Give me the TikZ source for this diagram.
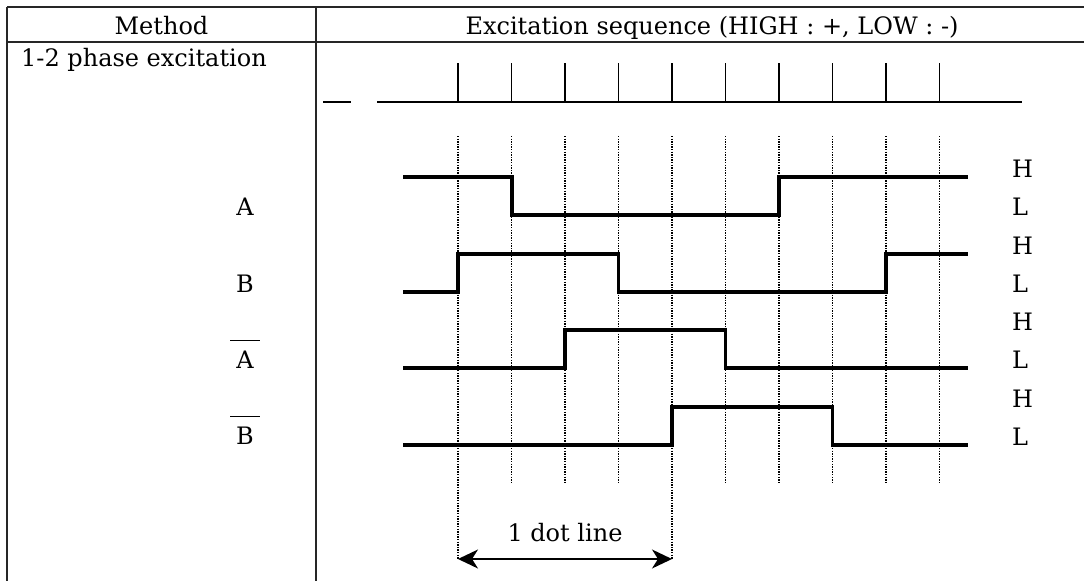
\documentclass[tikz,border=0pt]{standalone}
\usepackage{fontspec}
\setmainfont{DejaVu Serif}
\usetikzlibrary{arrows.meta}

\tikzset{
  frame/.style = {line width=1.6pt, draw=black!85},
  clock/.style = {line width=1.4pt},
  wave/.style = {line width=3.6pt, line join=miter},
  dotline/.style = {line width=1.3pt, dash pattern=on 1.3pt off 1.3pt},
  txt/.style = {font=\fontsize{24}{28}\selectfont, inner sep=0pt},
}

\newcommand{\barsig}[1]{$\overline{\hspace{6pt}\mbox{#1}\hspace{6pt}\rule{0pt}{26pt}}$}

\begin{document}
\begin{tikzpicture}[x = 1pt, y = -1pt]
\useasboundingbox (0, 0) rectangle (1084, 581);

% table
\draw[frame] (7, 7) -- (1084, 7);
\draw[frame] (7, 42) -- (1084, 42);
\draw[frame] (7, 7) -- (7, 581);
\draw[frame] (316, 7) -- (316, 581);

\node[txt, anchor = base] (method) at (161.5, 34) {Method};
\node[txt, anchor = base] (seq) at (712, 34) {Excitation sequence (HIGH : +, LOW : -)};
\node[txt, anchor = base west] (mode) at (21, 66) {1-2 phase excitation};

% clock pulses
\draw[clock] (323, 102) -- (351, 102);
\draw[clock] (377, 102) -- (1022, 102);
\foreach \i in {0, ..., 9}
  \draw[clock] (458 + 53.5*\i, 63) -- (458 + 53.5*\i, 102);

% dotted grid
\coordinate (d0) at (458, 559);
\coordinate (d4) at (672, 559);
\draw[dotline] (458, 136) -- (d0);
\draw[dotline] (672, 136) -- (d4);
\foreach \i in {1, 2, 3, 5, 6, 7, 8, 9}
  \draw[dotline] (458 + 53.5*\i, 136) -- (458 + 53.5*\i, 482);

% phases
\draw[wave] (403, 177) -- (512, 177) -- (512, 215) -- (779, 215) -- (779, 177) -- (968, 177);
\draw[wave] (403, 292) -- (458, 292) -- (458, 254) -- (618.5, 254) -- (618.5, 292) -- (886, 292) -- (886, 254) -- (968, 254);
\draw[wave] (403, 368) -- (565, 368) -- (565, 330) -- (725.5, 330) -- (725.5, 368) -- (968, 368);
\draw[wave] (403, 445) -- (672, 445) -- (672, 407) -- (832.5, 407) -- (832.5, 445) -- (968, 445);

\node[txt, anchor = base] (a) at (245, 215) {A};
\node[txt, anchor = base] (b) at (245, 292) {B};
\node[txt, anchor = base] (na) at (245, 368) {\barsig{A}};
\node[txt, anchor = base] (nb) at (245, 444) {\barsig{B}};

\node[txt, anchor = base west] (h1) at (1012, 177) {H};
\node[txt, anchor = base west] (l1) at (1012, 215) {L};
\node[txt, anchor = base west] (h2) at (1012, 254) {H};
\node[txt, anchor = base west] (l2) at (1012, 292) {L};
\node[txt, anchor = base west] (h3) at (1012, 330) {H};
\node[txt, anchor = base west] (l3) at (1012, 368) {L};
\node[txt, anchor = base west] (h4) at (1012, 407) {H};
\node[txt, anchor = base west] (l4) at (1012, 445) {L};

% one step
\draw[line width=1.5pt, {Stealth[length=20pt, width=19pt, inset=6pt]}-{Stealth[length=20pt, width=19pt, inset=6pt]}] (d0) -- (d4);
\node[txt, anchor = base] (step1) at (565, 541) {1 dot line};

\end{tikzpicture}
\end{document}
